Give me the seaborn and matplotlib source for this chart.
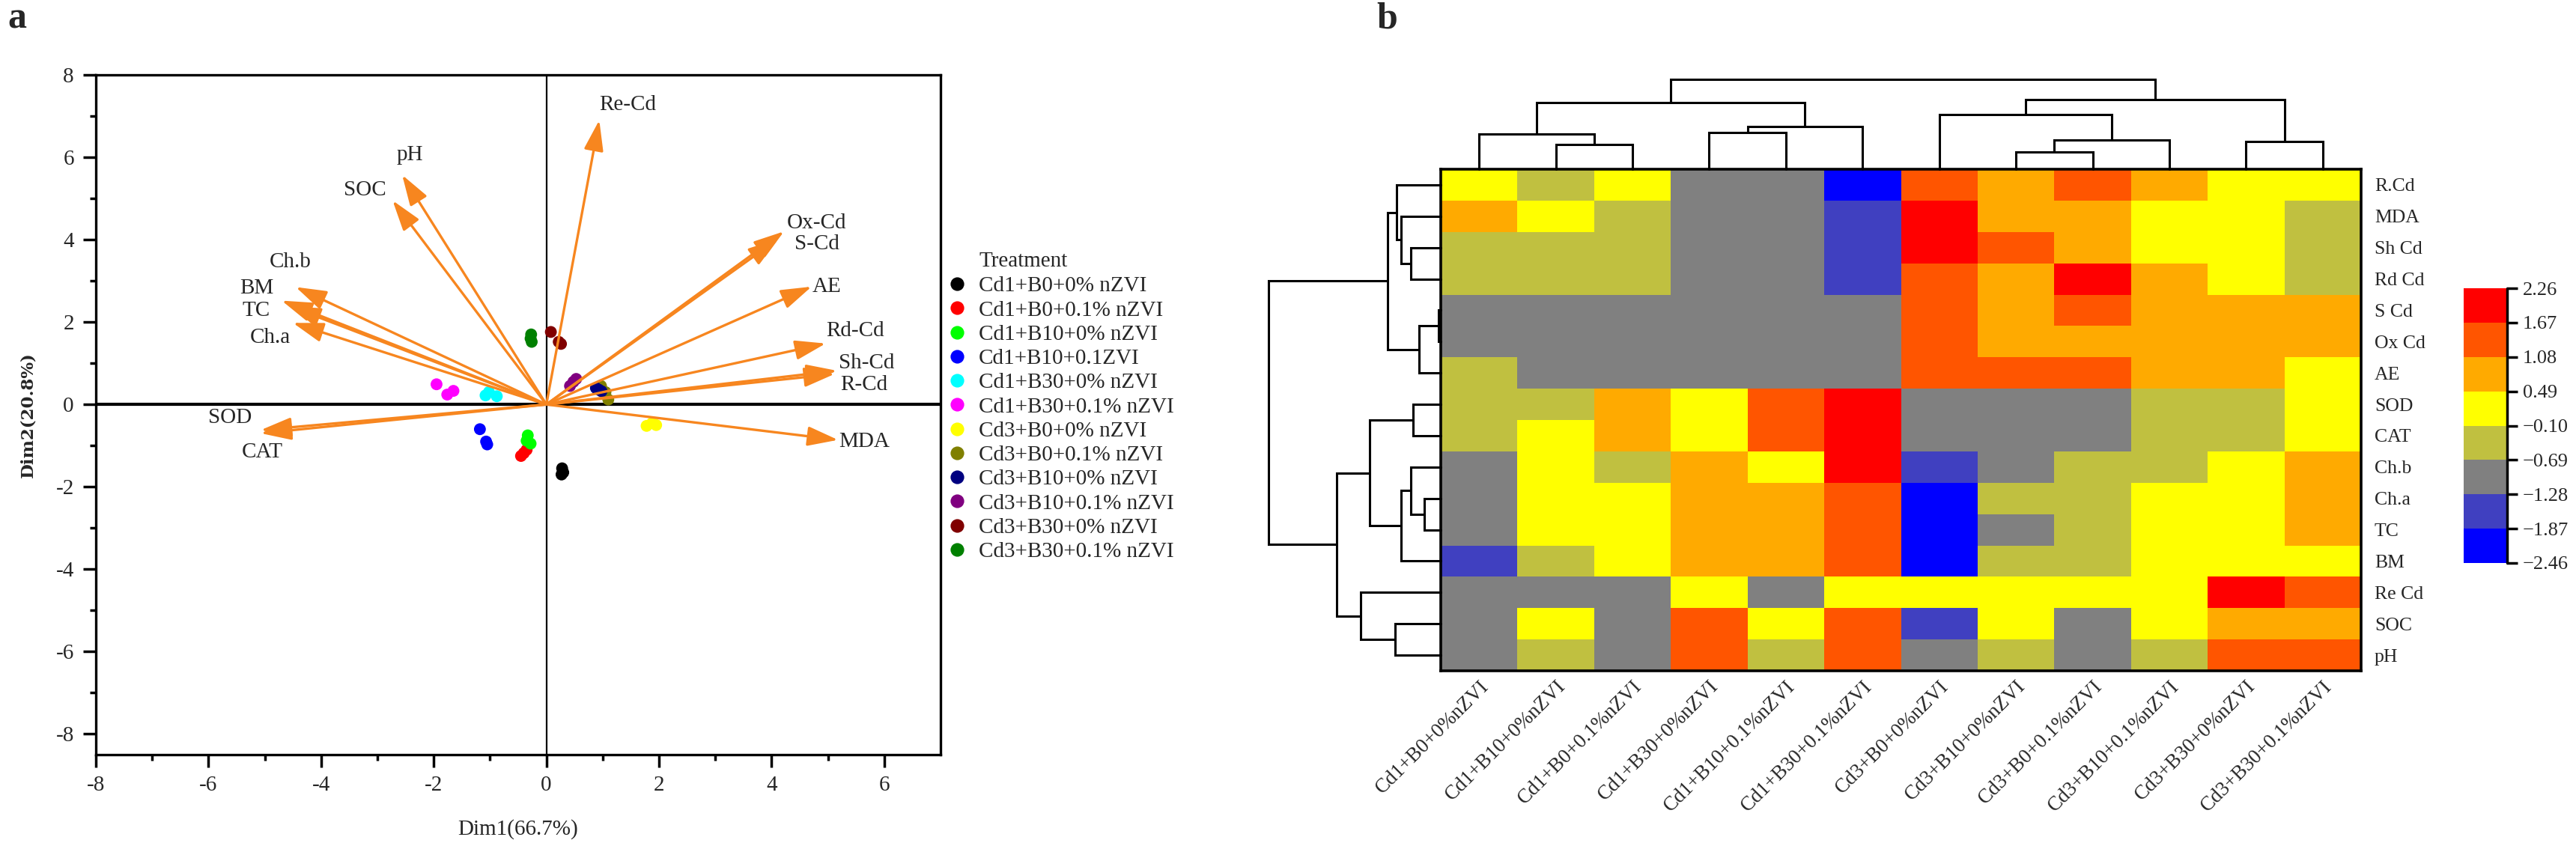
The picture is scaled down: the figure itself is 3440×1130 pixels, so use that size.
import numpy as np
import pandas as pd
import matplotlib
matplotlib.use("Agg")
import matplotlib.pyplot as plt
import seaborn as sns
from matplotlib.colors import ListedColormap, BoundaryNorm

# ---------------- data: PCA biplot (panel a) ----------------
treatments = ["Cd1+B0+0% nZVI", "Cd1+B0+0.1% nZVI", "Cd1+B10+0% nZVI", "Cd1+B10+0.1ZVI",
              "Cd1+B30+0% nZVI", "Cd1+B30+0.1% nZVI", "Cd3+B0+0% nZVI", "Cd3+B0+0.1% nZVI",
              "Cd3+B10+0% nZVI", "Cd3+B10+0.1% nZVI", "Cd3+B30+0% nZVI", "Cd3+B30+0.1% nZVI"]
treatment_colors = ["#000000", "#FF0000", "#00FF00", "#0000FF", "#00FFFF", "#FF00FF",
                    "#FFFF00", "#808000", "#000080", "#800080", "#800000", "#008000"]

score_group = [t for t in treatments for _ in range(3)]
score_dim1 = [0.28, 0.30, 0.27,
              -0.35, -0.45, -0.40,
              -0.33, -0.28, -0.35,
              -1.18, -1.07, -1.05,
              -1.02, -0.88, -1.08,
              -1.95, -1.76, -1.65,
              1.78, 1.88, 1.95,
              0.97, 1.05, 1.10,
              0.88, 0.98, 0.93,
              0.42, 0.48, 0.53,
              0.08, 0.26, 0.22,
              -0.27, -0.28, -0.26]
score_dim2 = [-1.55, -1.65, -1.70,
              -1.10, -1.25, -1.18,
              -0.75, -0.95, -0.88,
              -0.60, -0.90, -0.97,
              0.30, 0.20, 0.22,
              0.49, 0.24, 0.33,
              -0.52, -0.45, -0.50,
              0.45, 0.30, 0.12,
              0.40, 0.32, 0.36,
              0.45, 0.55, 0.62,
              1.76, 1.47, 1.52,
              1.70, 1.60, 1.52]

loading_names = ["Re-Cd", "pH", "SOC", "Ox-Cd", "S-Cd", "AE", "Rd-Cd", "Sh-Cd", "R-Cd",
                 "MDA", "SOD", "CAT", "Ch.b", "BM", "TC", "Ch.a"]
loading_dim1 = [0.94, -2.56, -2.73, 4.22, 4.12, 4.71, 4.96, 5.16, 5.12,
                5.18, -5.07, -5.07, -4.45, -4.70, -4.55, -4.50]
loading_dim2 = [6.90, 5.57, 4.95, 4.20, 4.02, 2.86, 1.48, 0.82, 0.74,
                -0.86, -0.62, -0.70, 2.85, 2.52, 2.38, 1.98]
label_dim1 = [1.45, -2.43, -3.22, 4.80, 4.80, 4.98, 5.48, 5.68, 5.64,
              5.64, -5.62, -5.05, -4.55, -5.15, -5.15, -4.90]
label_dim2 = [7.28, 6.05, 5.20, 4.40, 3.90, 2.85, 1.78, 1.00, 0.48,
              -0.90, -0.33, -1.15, 3.45, 2.82, 2.27, 1.63]

x_ticks = [-8, -6, -4, -2, 0, 2, 4, 6]
y_ticks = [-8, -6, -4, -2, 0, 2, 4, 6, 8]

# ---------------- data: clustered heatmap (panel b) ----------------
heat_columns = ["Cd1+B0+0%nZVI", "Cd1+B10+0%nZVI", "Cd1+B0+0.1%nZVI", "Cd1+B30+0%nZVI",
                "Cd1+B10+0.1%nZVI", "Cd1+B30+0.1%nZVI", "Cd3+B0+0%nZVI", "Cd3+B10+0%nZVI",
                "Cd3+B0+0.1%nZVI", "Cd3+B10+0.1%nZVI", "Cd3+B30+0%nZVI", "Cd3+B30+0.1%nZVI"]
heat_rows = ["R.Cd", "MDA", "Sh Cd", "Rd Cd", "S Cd", "Ox Cd", "AE", "SOD", "CAT",
             "Ch.b", "Ch.a", "TC", "BM", "Re Cd", "SOC", "pH"]

row_R_Cd = [0.2, -0.4, 0.2, -1.0, -1.0, -2.2, 1.4, 0.8, 1.4, 0.8, 0.2, 0.2]
row_MDA = [0.8, 0.2, -0.4, -1.0, -1.0, -1.6, 2.0, 0.8, 0.8, 0.2, 0.2, -0.4]
row_Sh_Cd = [-0.4, -0.4, -0.4, -1.0, -1.0, -1.6, 2.0, 1.4, 0.8, 0.2, 0.2, -0.4]
row_Rd_Cd = [-0.4, -0.4, -0.4, -1.0, -1.0, -1.6, 1.4, 0.8, 2.0, 0.8, 0.2, -0.4]
row_S_Cd = [-1.0, -1.0, -1.0, -1.0, -1.0, -1.0, 1.4, 0.8, 1.4, 0.8, 0.8, 0.8]
row_Ox_Cd = [-1.0, -1.0, -1.0, -1.0, -1.0, -1.0, 1.4, 0.8, 0.8, 0.8, 0.8, 0.8]
row_AE = [-0.4, -1.0, -1.0, -1.0, -1.0, -1.0, 1.4, 1.4, 1.4, 0.8, 0.8, 0.2]
row_SOD = [-0.4, -0.4, 0.8, 0.2, 1.4, 2.0, -1.0, -1.0, -1.0, -0.4, -0.4, 0.2]
row_CAT = [-0.4, 0.2, 0.8, 0.2, 1.4, 2.0, -1.0, -1.0, -1.0, -0.4, -0.4, 0.2]
row_Ch_b = [-1.0, 0.2, -0.4, 0.8, 0.2, 2.0, -1.6, -1.0, -0.4, -0.4, 0.2, 0.8]
row_Ch_a = [-1.0, 0.2, 0.2, 0.8, 0.8, 1.4, -2.2, -0.4, -0.4, 0.2, 0.2, 0.8]
row_TC = [-1.0, 0.2, 0.2, 0.8, 0.8, 1.4, -2.2, -1.0, -0.4, 0.2, 0.2, 0.8]
row_BM = [-1.6, -0.4, 0.2, 0.8, 0.8, 1.4, -2.2, -0.4, -0.4, 0.2, 0.2, 0.2]
row_Re_Cd = [-1.0, -1.0, -1.0, 0.2, -1.0, 0.2, 0.2, 0.2, 0.2, 0.2, 2.0, 1.4]
row_SOC = [-1.0, 0.2, -1.0, 1.4, 0.2, 1.4, -1.6, 0.2, -1.0, 0.2, 0.8, 0.8]
row_pH = [-1.0, -0.4, -1.0, 1.4, -0.4, 1.4, -1.0, -0.4, -1.0, -0.4, 1.4, 1.4]

color_bounds = [-2.46, -1.87, -1.28, -0.69, -0.10, 0.49, 1.08, 1.67, 2.26]
bin_colors = ["#0000FF", "#4040C0", "#808080", "#C0C040", "#FFFF00", "#FFAA00", "#FF5500", "#FF0000"]

# dendrogram merges (leaf order as displayed): (node a, node b, merge height)
col_merges = [(1, 2, 33), (0, 12, 47), (3, 4, 49), (14, 5, 57), (13, 15, 89),
              (7, 8, 23), (17, 9, 39), (6, 18, 73), (10, 11, 37), (19, 20, 93), (16, 21, 120)]
row_merges = [(2, 3, 40), (1, 16, 53), (0, 17, 59), (4, 5, 3), (19, 6, 29), (18, 20, 71),
              (10, 11, 22), (9, 22, 40), (23, 12, 53), (7, 8, 37), (25, 24, 95),
              (14, 15, 61), (13, 27, 107), (26, 28, 139), (21, 29, 230)]

# ---------------- styling ----------------
sns.set_theme(style="ticks")
plt.rcParams["font.family"] = ["Liberation Serif", "DejaVu Serif"]
plt.rcParams["axes.unicode_minus"] = False

W, H = 3440, 1130
fig = plt.figure(figsize=(W / 100, H / 100), dpi=100)

def fr(x0, y0, x1, y1):
    return [x0 / W, 1 - y1 / H, (x1 - x0) / W, (y1 - y0) / H]

# ================= panel a =================
ax = fig.add_axes(fr(128, 100, 1256, 1008))
ax.axhline(0, color="black", lw=3.0, zorder=1)
ax.axvline(0, color="black", lw=1.6, zorder=1)

scores = pd.DataFrame({"Dim1": score_dim1, "Dim2": score_dim2, "Treatment": score_group})
sns.scatterplot(data=scores, x="Dim1", y="Dim2", hue="Treatment", hue_order=treatments,
                palette=treatment_colors, s=130, linewidth=0, ax=ax, zorder=2)

arrow_color = "#F7861F"
for name, x, y, lx, ly in zip(loading_names, loading_dim1, loading_dim2, label_dim1, label_dim2):
    ax.annotate("", xy=(x, y), xytext=(0, 0), xycoords="data",
                arrowprops=dict(arrowstyle="-|>,head_length=0.5,head_width=0.16",
                                mutation_scale=50, color=arrow_color, lw=2.4,
                                shrinkA=0, shrinkB=0), zorder=3)
    ax.text(lx, ly, name, ha="center", va="center", fontsize=21, zorder=4)

ax.set_xlim(-8, 7)
ax.set_ylim(-8.5, 8)
ax.set_xticks(x_ticks)
ax.set_xticklabels([str(v) for v in x_ticks])
ax.set_yticks(y_ticks)
ax.set_yticklabels([str(v) for v in y_ticks])
ax.set_xticks(np.arange(-7, 7, 2), minor=True)
ax.set_yticks(np.arange(-7, 8, 2), minor=True)
ax.tick_params(which="major", length=12, width=2.5, labelsize=21, color="black")
ax.tick_params(axis="x", which="major", pad=8)
ax.tick_params(axis="y", which="major", pad=9)
ax.tick_params(which="minor", length=6, width=2.5, color="black")
for sp in ax.spines.values():
    sp.set_visible(True)
    sp.set_linewidth(2.4)
    sp.set_color("black")

ax.set_xlabel("Dim1(66.7%)", fontsize=21)
ax.xaxis.set_label_coords(0.5, -0.110)
ax.xaxis.label.set_va("center")
ax.set_ylabel("Dim2(20.8%)", fontsize=16.5, family=["DejaVu Serif"], fontweight="bold")
ax.yaxis.set_label_coords(-0.0807, 0.5)
ax.yaxis.label.set_va("center")

handles, labels = ax.get_legend_handles_labels()
leg = ax.legend(handles, labels, loc="upper left", bbox_to_anchor=(1266 / W, 1 - 369 / H),
                bbox_transform=fig.transFigure, frameon=False, fontsize=21,
                markerscale=1.15, handlelength=0.8, handletextpad=0.6,
                labelspacing=0.2, borderpad=0, borderaxespad=0)
fig.text(1307 / W, 1 - 349 / H, "Treatment", fontsize=21, va="center", ha="left")

fig.text(10 / W, 1 - 37 / H, "a", fontsize=36, fontweight="bold", va="baseline")
fig.text(1838 / W, 1 - 37 / H, "b", fontsize=36, fontweight="bold", va="baseline")

# ================= panel b =================
heat = pd.DataFrame([row_R_Cd, row_MDA, row_Sh_Cd, row_Rd_Cd, row_S_Cd, row_Ox_Cd, row_AE,
                     row_SOD, row_CAT, row_Ch_b, row_Ch_a, row_TC, row_BM, row_Re_Cd,
                     row_SOC, row_pH], index=heat_rows, columns=heat_columns)

axh = fig.add_axes(fr(1924, 226, 3153, 896))
cax = fig.add_axes(fr(3290, 385, 3348, 752))
cmap = ListedColormap(bin_colors)
norm = BoundaryNorm(color_bounds, cmap.N)
sns.heatmap(heat, cmap=cmap, norm=norm, ax=axh, cbar_ax=cax, linewidths=0,
            xticklabels=heat_columns, yticklabels=heat_rows)
for sp in axh.spines.values():
    sp.set_visible(True)
    sp.set_linewidth(2.6)
    sp.set_color("black")
axh.yaxis.tick_right()
axh.set_yticklabels(heat_rows, rotation=0, fontsize=18.5)
axh.set_xticklabels(heat_columns, rotation=45, ha="right", va="top",
                    rotation_mode="anchor", fontsize=19.5)
axh.tick_params(axis="y", length=0, pad=13)
axh.tick_params(axis="x", length=0, pad=6)
axh.set_xlabel("")
axh.set_ylabel("")

cb = axh.collections[0].colorbar
cb.set_ticks(color_bounds)
cb.set_ticklabels([f"{v:.2f}".replace("-", "\u2212") for v in color_bounds])
cb.outline.set_visible(False)
cax.tick_params(length=10, width=2.5, labelsize=19, pad=5, color="black")
cax.plot([1, 1], [0, 1], transform=cax.transAxes, color="black", lw=2.5, clip_on=False)

def dendro_segments(merges, n):
    pos = {i: i + 0.5 for i in range(n)}
    hgt = {i: 0.0 for i in range(n)}
    segs = []
    for k, (a, b, h) in enumerate(merges):
        segs.append(([pos[a], pos[a], pos[b], pos[b]], [hgt[a], h, h, hgt[b]]))
        pos[n + k] = (pos[a] + pos[b]) / 2
        hgt[n + k] = h
    return segs

axc = fig.add_axes(fr(1924, 96, 3153, 226))
for xs, hs in dendro_segments(col_merges, len(heat_columns)):
    axc.plot(xs, hs, color="black", lw=2.2, solid_joinstyle="miter", clip_on=False)
axc.set_xlim(0, len(heat_columns))
axc.set_ylim(0, 130)
axc.axis("off")

axr = fig.add_axes(fr(1674, 226, 1924, 896))
for ys, hs in dendro_segments(row_merges, len(heat_rows)):
    axr.plot(hs, ys, color="black", lw=2.2, solid_joinstyle="miter", clip_on=False)
axr.set_ylim(len(heat_rows), 0)
axr.set_xlim(250, 0)
axr.axis("off")

fig.savefig("out.png", dpi=100)
